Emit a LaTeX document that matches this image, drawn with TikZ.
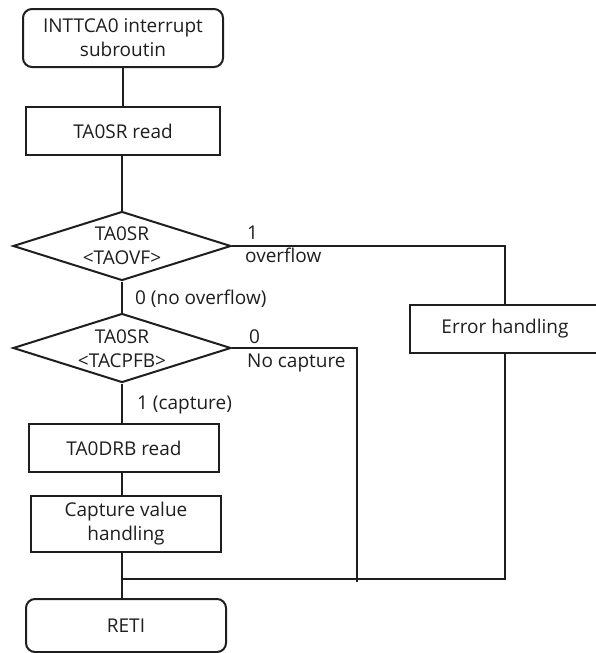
\documentclass[tikz,border=0pt]{standalone}
\usepackage{fontspec}
\setmainfont{Open Sans}
\usetikzlibrary{shapes.geometric}
\definecolor{ink}{HTML}{1E1E1E}
\begin{document}
\begin{tikzpicture}[x=1pt,y=-1pt,
  every node/.style={text=ink,font=\fontsize{19}{24}\selectfont},
  conn/.style={draw=ink,line width=2pt},
  procbox/.style={draw=ink,line width=2pt,rectangle,inner sep=0pt,align=center},
  termbox/.style={draw=ink,line width=2pt,rectangle,rounded corners=9pt,inner sep=0pt,align=center},
  decbox/.style={draw=ink,line width=2pt,diamond,inner sep=0pt,minimum width=218pt,minimum height=69pt},
  lbl/.style={anchor=base west,inner sep=0pt}
]
\useasboundingbox (0,0) rectangle (596,653);
% boxes
\node[termbox,minimum width=200pt,minimum height=58pt] (start) at (123,38) {INTTCA0 interrupt\\subroutin};
\node[procbox,minimum width=194pt,minimum height=48pt] (read) at (123,131) {TA0SR read};
\node[decbox] (d1) at (122,246) {};
\node[align=center,inner sep=0pt] (d1t) at (122,246) {TA0SR\\<TAOVF>};
\node[decbox] (d2) at (122,348) {};
\node[align=center,inner sep=0pt] (d2t) at (122,349) {TA0SR\\<TACPFB>};
\node[procbox,minimum width=190pt,minimum height=48pt] (drb) at (124,448) {TA0DRB read};
\node[procbox,minimum width=190pt,minimum height=56pt] (cap) at (126,524) {Capture value\\handling};
\node[procbox,minimum width=190pt,minimum height=48pt] (err) at (505,329) {Error handling};
\node[termbox,minimum width=200pt,minimum height=53pt] (reti) at (126,625.5) {RETI};
% junction coordinates
\coordinate (j) at (122,579);
\coordinate (nc) at (357,582);
% connectors
\draw[conn] (start.south -| 123,0) -- (read.north -| 123,0);
\draw[conn] (read.south -| d1.north) -- (d1.north);
\draw[conn] (d1.east) -| (err.north);
\draw[conn] (d1.south) -- (d2.north);
\draw[conn] (d2.east) -| (nc);
\draw[conn] (d2.south) -- (drb.north -| d2.south);
\draw[conn] (drb.south -| d2.south) -- (cap.north -| d2.south);
\draw[conn] (cap.south -| j) -- (reti.north -| j);
\draw[conn] (err.south) |- (j);
% labels
\node[lbl] (l1) at (247,239.5) {1};
\node[lbl] (l2) at (245,262) {overflow};
\node[lbl] (l3) at (135,304) {0 (no overflow)};
\node[lbl] (l4) at (249,343) {0};
\node[lbl] (l5) at (247,367) {No capture};
\node[lbl] (l6) at (137,409) {1 (capture)};
\end{tikzpicture}
\end{document}
